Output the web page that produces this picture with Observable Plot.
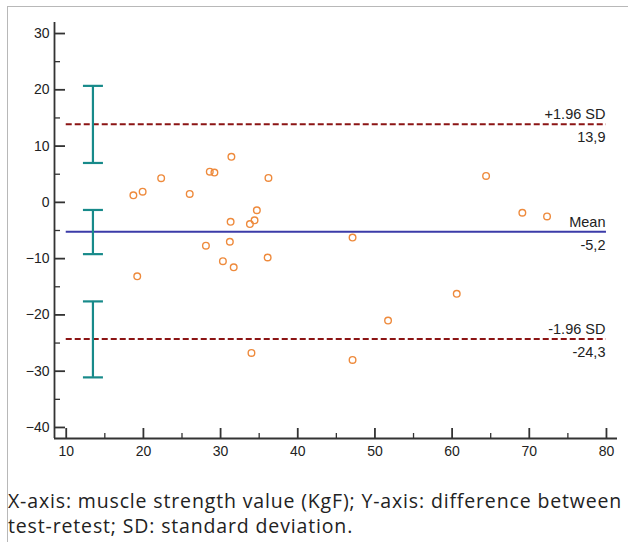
<!DOCTYPE html>
<html><head><meta charset="utf-8">
<script src="https://cdn.jsdelivr.net/npm/d3@7"></script>
<script src="https://cdn.jsdelivr.net/npm/@observablehq/plot@0.6"></script>
<style>
body{margin:0;background:#fff;width:628px;height:542px;overflow:hidden;position:relative;}
#box{position:absolute;left:7px;top:6px;width:660px;height:600px;border-left:1px solid #b8b8b8;border-top:1px solid #b8b8b8;}
#chart{position:absolute;left:0;top:0;}
#chart svg{background:transparent !important;font-family:"Liberation Sans",Arial,sans-serif !important;}
#chart svg text{font-family:"Liberation Sans",Arial,sans-serif !important;}
#cap{position:absolute;left:8px;top:488px;font-family:"Open Sans",sans-serif;font-size:19.5px;letter-spacing:0.85px;line-height:25px;color:#222;white-space:nowrap;}
</style></head><body>
<div id="box"></div>
<div id="chart"></div>
<div id="cap">X-axis: muscle strength value (KgF); Y-axis: difference between<br>test-retest; SD: standard deviation.</div>
<script>
// Data: mean muscle strength (KgF) vs test-retest difference
const meanX = [18.7, 19.9, 22.3, 26.0, 28.6, 29.2, 31.4, 36.2, 34.7, 34.4, 33.8, 31.3, 31.2, 28.1, 30.3, 31.7, 36.1, 34.0, 47.1, 19.2, 64.4, 69.1, 72.3, 47.1, 60.6, 51.7];
const diffY = [1.25, 1.9, 4.3, 1.5, 5.45, 5.3, 8.1, 4.35, -1.4, -3.2, -3.85, -3.45, -7.0, -7.7, -10.45, -11.55, -9.8, -26.75, -28.0, -13.15, 4.7, -1.85, -2.5, -6.25, -16.25, -21.0];

// Limits of agreement
const limitValues = [13.9, -5.2, -24.3];
const limitNames = ["+1.96 SD", "Mean", "-1.96 SD"];
const limitLabels = ["13,9", "-5,2", "-24,3"];
const limitKinds = ["sd", "mean", "sd"];

// Confidence intervals of the limits
const ciX = 13.46;
const ciLow = [7.0, -9.2, -31.1];
const ciHigh = [20.7, -1.35, -17.6];

// Axes
const xMajor = [10, 20, 30, 40, 50, 60, 70, 80];
const xMinor = [15, 25, 35, 45, 55, 65, 75];
const yMajor = [30, 20, 10, 0, -10, -20, -30, -40];
const yMinor = [25, 15, 5, -5, -15, -25, -35];
const xDomain = [8.48, 81.43];
const yDomain = [-41.96, 31.96];

const points = meanX.map((x, i) => ({x, y: diffY[i]}));
const limits = limitValues.map((v, i) => ({v, name: limitNames[i], label: limitLabels[i], kind: limitKinds[i]}));
const cis = ciLow.map((lo, i) => ({lo, hi: ciHigh[i]}));
const caps = cis.flatMap(d => [d.lo, d.hi]);

const W = 628, H = 470, mL = 54, mR = 11, mT = 22, mB = 32;
const frameW = W - mL - mR, frameH = H - mT - mB;
const axisColor = "#333";
const teal = "#178a8a";
const capSymbol = {draw(ctx) { ctx.moveTo(-10, 0); ctx.lineTo(10, 0); }};

const chart = Plot.plot({
  width: W, height: H,
  marginLeft: mL, marginRight: mR, marginTop: mT, marginBottom: mB,
  x: {domain: xDomain},
  y: {domain: yDomain},
  style: {fontFamily: "Liberation Sans", fontSize: "14px", background: "transparent", color: "#222"},
  marks: [
    // axis lines
    Plot.ruleX([xDomain[0]], {x: d => d, y1: yDomain[0], y2: yDomain[1], stroke: axisColor, strokeWidth: 1.8}),
    Plot.ruleY([yDomain[0]], {y: d => d, x1: xDomain[0], x2: xDomain[1], stroke: axisColor, strokeWidth: 1.8}),
    // inward ticks
    Plot.tickY(yMajor, {y: d => d, insetRight: frameW - 11, stroke: axisColor, strokeWidth: 1.8}),
    Plot.tickY(yMinor, {y: d => d, insetRight: frameW - 6, stroke: axisColor, strokeWidth: 1.3}),
    Plot.tickX(xMajor, {x: d => d, insetTop: frameH - 10, stroke: axisColor, strokeWidth: 1.8}),
    Plot.tickX(xMinor, {x: d => d, insetTop: frameH - 5, stroke: axisColor, strokeWidth: 1.3}),
    Plot.axisY({ticks: yMajor, tickSize: 0, tickPadding: 5, fontSize: 14, label: null}),
    Plot.axisX({ticks: xMajor, tickSize: 0, tickPadding: 8, fontSize: 14, label: null}),
    // limit lines
    Plot.ruleY(limits.filter(d => d.kind === "sd"), {y: "v", x1: xMajor[0], x2: xMajor[xMajor.length - 1], stroke: "#8b1414", strokeWidth: 2, strokeDasharray: "6,3"}),
    Plot.ruleY(limits.filter(d => d.kind === "mean"), {y: "v", x1: xMajor[0], x2: xMajor[xMajor.length - 1], stroke: "#3b3ba8", strokeWidth: 2}),
    Plot.text(limits, {x: () => xMajor[xMajor.length - 1], y: "v", text: "name", textAnchor: "end", dx: -1, dy: -9.5, fontSize: 14.5, fill: "#222"}),
    Plot.text(limits, {x: () => xMajor[xMajor.length - 1], y: "v", text: "label", textAnchor: "end", dx: -1, dy: 13.3, fontSize: 14.5, fill: "#222"}),
    // CI error bars
    Plot.ruleX(cis, {x: () => ciX, y1: "lo", y2: "hi", stroke: teal, strokeWidth: 2.2}),
    Plot.dot(caps, {x: () => ciX, y: d => d, symbol: capSymbol, stroke: teal, strokeWidth: 2.2, fill: "none"}),
    // data points
    Plot.dot(points, {x: "x", y: "y", r: 3.3, stroke: "#ee8a3c", strokeWidth: 1.4, fill: "none"})
  ]
});
document.getElementById("chart").appendChild(chart);
</script>
</body></html>
